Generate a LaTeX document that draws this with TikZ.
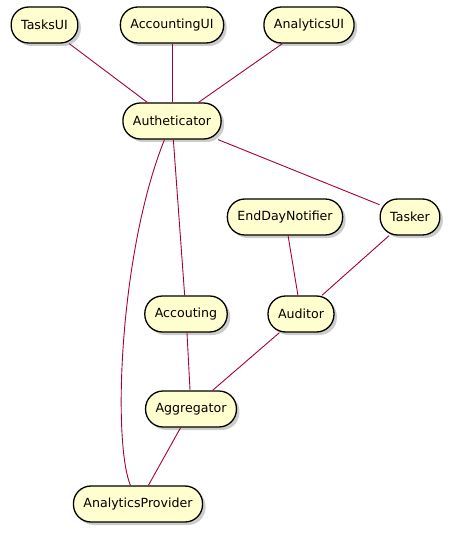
\documentclass[tikz,border=0pt]{standalone}
\usepackage{fontspec}
\setmainfont{DejaVu Sans}
\usepackage{xcolor}
\usetikzlibrary{shadows}
\definecolor{ucfill}{HTML}{FEFECE}
\definecolor{linkred}{HTML}{A80036}
\tikzset{
  uc/.style={draw=black, fill=ucfill, line width=1.3pt, rounded corners=17.5pt,
    minimum height=36pt, inner xsep=10pt, inner ysep=0pt, font=\fontsize{12.6}{14}\selectfont,
    drop shadow={shadow xshift=3pt, shadow yshift=-3pt, fill=black!40, opacity=0.5}},
  link/.style={draw=linkred, line width=0.9pt},
}
\begin{document}
\begin{tikzpicture}[x=1pt,y=-1pt]
  \useasboundingbox (0,0) rectangle (458,534);
  % top row
  \node[uc] (tasksui) at (44.5,25) {TasksUI};
  \node[uc] (accui) at (172,25) {AccountingUI};
  \node[uc] (anaui) at (309,25) {AnalyticsUI};
  \node[uc] (auth) at (172,121) {Autheticator};
  % middle
  \node[uc] (notifier) at (285,217) {EndDayNotifier};
  \node[uc] (tasker) at (410,217) {Tasker};
  \node[uc] (accouting) at (186,314) {Accouting};
  \node[uc] (auditor) at (301,314) {Auditor};
  % bottom
  \node[uc] (aggr) at (191,409) {Aggregator};
  \node[uc] (provider) at (138,504) {AnalyticsProvider};
  % links
  \draw[link] (tasksui) -- (auth);
  \draw[link] (accui) -- (auth);
  \draw[link] (anaui) -- (auth);
  \draw[link] (auth) -- (tasker);
  \draw[link] (auth) -- (accouting);
  \draw[link] (auth) .. controls (120,250) and (112,440) .. (provider);
  \draw[link] (notifier) -- (auditor);
  \draw[link] (tasker) -- (auditor);
  \draw[link] (accouting) -- (aggr);
  \draw[link] (auditor) -- (aggr);
  \draw[link] (aggr) -- (provider);
\end{tikzpicture}
\end{document}
